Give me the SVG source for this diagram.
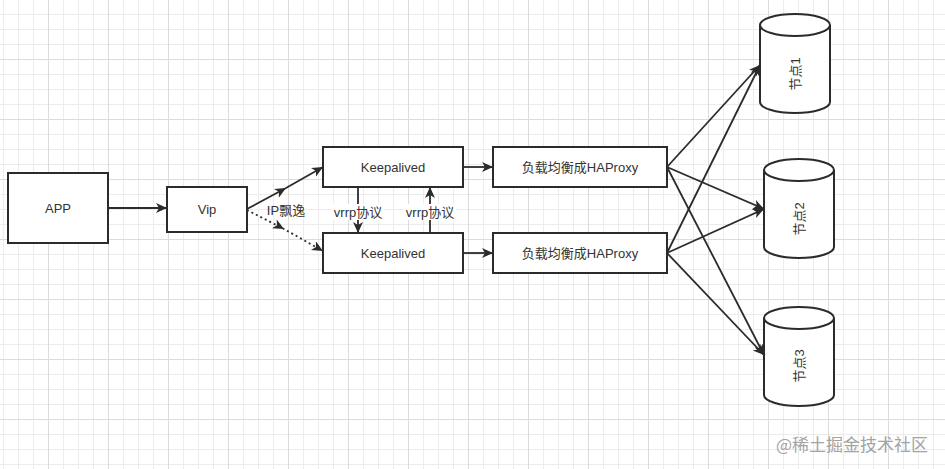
<svg xmlns="http://www.w3.org/2000/svg" width="945" height="469" viewBox="0 0 945 469">
<defs>
<pattern id="minor" patternUnits="userSpaceOnUse" x="3" y="14" width="15" height="15">
<path d="M0.5,0 V15 M0,0.5 H15" stroke="#ececec" stroke-width="1" fill="none"/>
</pattern>
<pattern id="major" patternUnits="userSpaceOnUse" x="48" y="59" width="60" height="60">
<path d="M0.5,0 V60 M0,0.5 H60" stroke="#dcdcdc" stroke-width="1" fill="none"/>
</pattern>
<marker id="arr" markerUnits="userSpaceOnUse" markerWidth="14" markerHeight="12" refX="11" refY="5" orient="auto">
<path d="M0,0 L11,5 L0,10 L3,5 Z" fill="#2b2b2b"/>
</marker>
<style>
.box{fill:#fff;stroke:#2b2b2b;stroke-width:2}
.t{font-family:"Liberation Sans","Noto Sans CJK SC",sans-serif;font-size:13px;fill:#333;text-anchor:middle;dominant-baseline:central}
.ln{fill:none;stroke:#2b2b2b;stroke-width:1.8}
.dot{stroke-dasharray:2 3}
.lbg{fill:#fff}
</style>
</defs>
<rect width="945" height="469" fill="#fff"/>
<rect width="945" height="469" fill="url(#minor)"/>
<rect width="945" height="469" fill="url(#major)"/>

<g id="connectors">
<line class="ln" x1="108" y1="208" x2="167" y2="208" marker-end="url(#arr)"/>
<polyline class="ln" points="247,209 286,188 323,167" marker-mid="url(#arr)" marker-end="url(#arr)"/>
<polyline class="ln dot" points="247,210 284,229 323,251" marker-mid="url(#arr)" marker-end="url(#arr)"/>
<line class="ln" x1="358" y1="187" x2="358" y2="233" marker-end="url(#arr)"/>
<line class="ln" x1="430" y1="233" x2="430" y2="187" marker-end="url(#arr)"/>
<line class="ln" x1="463" y1="167" x2="493" y2="167" marker-end="url(#arr)"/>
<line class="ln" x1="463" y1="253" x2="493" y2="253" marker-end="url(#arr)"/>
<line class="ln" x1="667" y1="167" x2="760" y2="65" marker-end="url(#arr)"/>
<line class="ln" x1="667" y1="253" x2="760" y2="65" marker-end="url(#arr)"/>
<line class="ln" x1="667" y1="167" x2="764" y2="209" marker-end="url(#arr)"/>
<line class="ln" x1="667" y1="253" x2="764" y2="209" marker-end="url(#arr)"/>
<line class="ln" x1="667" y1="167" x2="764" y2="355" marker-end="url(#arr)"/>
<line class="ln" x1="667" y1="253" x2="764" y2="355" marker-end="url(#arr)"/>
<text class="t" x="286" y="210">IP飘逸</text>
<rect class="lbg" x="332" y="204" width="52" height="16"/>
<text class="t" x="358" y="212">vrrp协议</text>
<rect class="lbg" x="404" y="204" width="52" height="16"/>
<text class="t" x="430" y="212">vrrp协议</text>
</g>

<g id="app">
<rect class="box" x="8" y="173" width="100" height="70"/>
<text class="t" x="58" y="208">APP</text>
</g>
<g id="vip">
<rect class="box" x="167" y="187" width="80" height="45"/>
<text class="t" x="207" y="209.5">Vip</text>
</g>
<g id="keepalived1">
<rect class="box" x="323" y="147" width="140" height="40"/>
<text class="t" x="393" y="167">Keepalived</text>
</g>
<g id="keepalived2">
<rect class="box" x="323" y="233" width="140" height="40"/>
<text class="t" x="393" y="253">Keepalived</text>
</g>
<g id="haproxy1">
<rect class="box" x="493" y="147" width="174" height="40"/>
<text class="t" x="580" y="167">负载均衡成HAProxy</text>
</g>
<g id="haproxy2">
<rect class="box" x="493" y="233" width="174" height="40"/>
<text class="t" x="580" y="253">负载均衡成HAProxy</text>
</g>
<g id="node1">
<path class="box" d="M760,25 A35,11 0 0,1 830,25 L830,102 A35,11 0 0,1 760,102 Z"/>
<path class="box" d="M760,25 A35,11 0 0,0 830,25" fill="none"/>
<text class="t" transform="translate(795,74) rotate(-90)">节点1</text>
</g>
<g id="node2">
<path class="box" d="M764,170 A35,11 0 0,1 834,170 L834,247 A35,11 0 0,1 764,247 Z"/>
<path class="box" d="M764,170 A35,11 0 0,0 834,170" fill="none"/>
<text class="t" transform="translate(799,219) rotate(-90)">节点2</text>
</g>
<g id="node3">
<path class="box" d="M764,318 A35,11 0 0,1 834,318 L834,395 A35,11 0 0,1 764,395 Z"/>
<path class="box" d="M764,318 A35,11 0 0,0 834,318" fill="none"/>
<text class="t" transform="translate(799,366) rotate(-90)">节点3</text>
</g>
<text x="928" y="443" text-anchor="end" dominant-baseline="central" font-family="'Noto Sans CJK SC',sans-serif" font-size="17" fill="#a3a3a3">@稀土掘金技术社区</text>
</svg>
